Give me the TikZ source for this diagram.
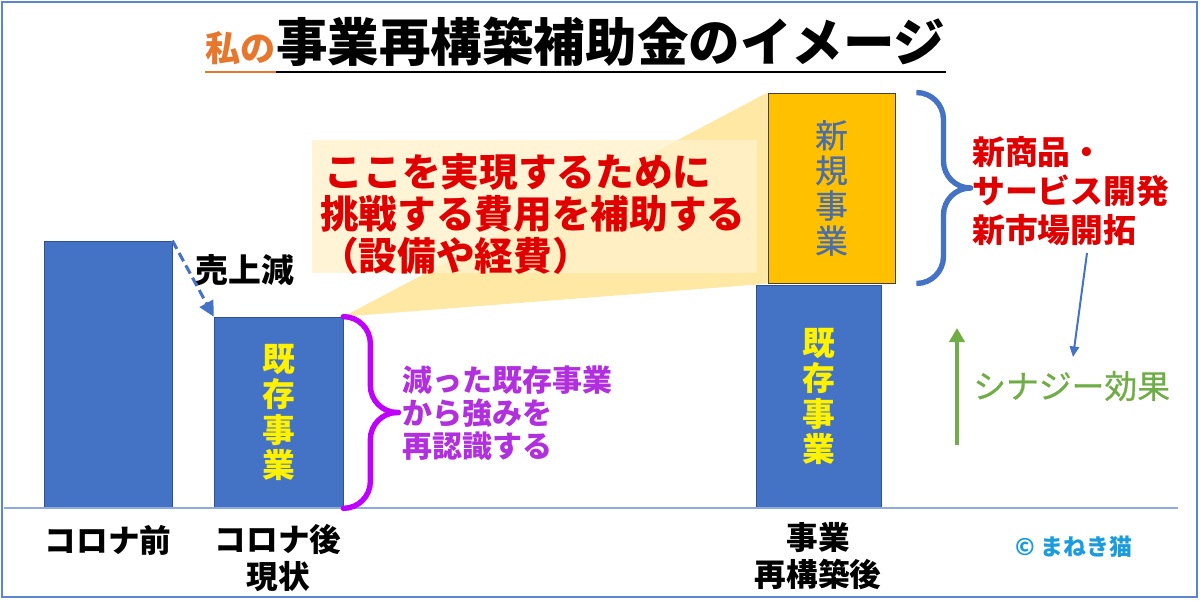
\documentclass[tikz,border=0pt]{standalone}
\usepackage{fontspec}
\setmainfont{Noto Sans CJK JP}
\newfontfamily\medfont{Noto Sans CJK JP}[FakeBold=0.7]
\usetikzlibrary{calc,positioning,arrows.meta}
\definecolor{barblue}{HTML}{4472C4}
\definecolor{barline}{HTML}{2F528F}
\definecolor{newfill}{HTML}{FFC000}
\definecolor{newline}{HTML}{404040}
\definecolor{newtext}{HTML}{4A6EA8}
\definecolor{fancol}{HTML}{FFD966}
\definecolor{notecol}{HTML}{FFF2CC}
\definecolor{alertred}{HTML}{E00000}
\definecolor{purpbrace}{HTML}{C000FF}
\definecolor{purptext}{HTML}{B22FE0}
\definecolor{synergy}{HTML}{70AD47}
\definecolor{mineorange}{HTML}{E8772E}
\definecolor{framecol}{HTML}{5B85CF}
\definecolor{axiscol}{HTML}{8FAADC}
\definecolor{catcol}{HTML}{1A9BDE}

\begin{document}
\begin{tikzpicture}[x=0.03cm, y=-0.03cm,
      bar/.style={draw=barline, line width=0.6pt, fill=barblue, text=yellow,
                  align=center, inner sep=0pt,
                  font=\fontsize{28}{30}\selectfont\bfseries},
      newbox/.style={draw=newline, line width=0.8pt, fill=newfill, text=newtext,
                     align=center, inner sep=0pt,
                     font=\fontsize{28}{30}\selectfont\medfont},
      lbl/.style={inner sep=0pt, align=center, text=black,
                  font=\fontsize{27}{31.6}\selectfont\bfseries},
      brc/.style={line width=4.6pt, rounded corners=23pt, line cap=round},
      dasharr/.style={-{Triangle[length=13pt, width=13pt]}, dash pattern=on 8pt off 4pt,
                      line width=2.6pt, color=barblue},
      thinarr/.style={-{Triangle[length=9pt, width=8pt]}, line width=1.7pt, color=barblue},
      greenarr/.style={-{Triangle[length=12pt, width=13pt]}, line width=3.4pt, color=synergy}]

    \useasboundingbox (0,0) rectangle (1200,601);
    \draw[framecol, line width=1.5pt] (2,2) rectangle (1197,597);

    % title
    \node[anchor=base west, inner sep=0pt, font=\fontsize{44}{48}\selectfont\bfseries]
      (ttl) at (276,62) {事業再構築補助金のイメージ};
    \node[anchor=base east, inner sep=0pt, text=mineorange,
          font=\fontsize{30}{34}\selectfont\bfseries]
      (mine) at (ttl.base west) {私の};
    \draw[mineorange, line width=2pt] ($(mine.base west)+(0,10)$) -- ($(mine.base east)+(0,10)$);
    \draw[black, line width=2pt] ($(ttl.base west)+(0,10)$) -- ($(ttl.base east)+(0,10)$);

    % bars
    \node[bar, minimum width=3.84cm, minimum height=8.01cm] (pre) at (108,374.5) {};
    \node[bar, minimum width=3.87cm, minimum height=5.73cm] (now) at (278.5,412.5) {既\\存\\事\\業};
    \node[bar, minimum width=3.75cm, minimum height=6.69cm] (old) at (818.5,396.5) {既\\存\\事\\業};
    \node[newbox, minimum width=3.81cm, minimum height=5.7cm] (new) at (831.5,188) {新\\規\\事\\業};

    \draw[axiscol, line width=1.2pt] (4,508) -- (1178,508);

    % zoom fan and note
    \fill[fancol, opacity=0.6] (now.north east) -- (new.north west) -- (new.south west) -- (old.north west) -- cycle;
    \node[fill=notecol, fill opacity=0.8, inner sep=0pt,
          minimum width=13.35cm, minimum height=3.99cm] (note) at (534.5,206.5) {};
    \node[anchor=west, inner sep=0pt, align=left, text=alertred,
          font=\fontsize{33}{35.9}\selectfont\bfseries]
      (msg) at (320,214) {\hspace{4pt}ここを実現するために\\挑戦する費用を補助する\\（設備や経費）};

    % sales drop
    \draw[dasharr] (pre.north east) -- (now.north west);
    \node[lbl, font=\fontsize{28}{30}\selectfont\bfseries] (drop) at (245,270) {売上減};

    % braces
    \draw[brc, purpbrace] (now.north east) -| ($(now.east)+(27,0)$) -- ($(now.east)+(55,0)$);
    \draw[brc, purpbrace] (now.south east) -| ($(now.east)+(27,0)$) -- ($(now.east)+(55,0)$);
    \node[anchor=west, inner sep=0pt, align=left, text=purptext,
          font=\fontsize{25.6}{28.2}\selectfont\bfseries]
      (rethink) at (402,413) {減った既存事業\\から強みを\\再認識する};

    \draw[brc, barblue] ($(new.north east)+(22,0)$) -| ($(new.east)+(48,0)$) -- ($(new.east)+(75,0)$);
    \draw[brc, barblue] ($(new.south east)+(22,0)$) -| ($(new.east)+(48,0)$) -- ($(new.east)+(75,0)$);
    \node[anchor=west, inner sep=0pt, align=left, text=alertred,
          font=\fontsize{28}{33.3}\selectfont\bfseries]
      (grow) at (972,191) {新商品・\\サービス開発\\新市場開拓};

    % synergy
    \coordinate (hintS) at (1087,253);
    \coordinate (hintE) at (1073,357);
    \draw[thinarr] (hintS) -- (hintE);
    \coordinate (upS) at (957,445);
    \coordinate (upE) at (957,328);
    \draw[greenarr] (upS) -- (upE);
    \node[anchor=west, inner sep=0pt, text=synergy,
          font=\fontsize{28}{30}\selectfont\medfont]
      (syn) at (973,386) {シナジー効果};

    % bottom labels
    \node[lbl] (preL) at (108,540) {コロナ前};
    \node[lbl] (nowL) at (278,558) {コロナ後\\現状};
    \node[lbl] (oldL) at (818,556) {事業\\再構築後};
    \node[inner sep=0pt, text=catcol, font=\fontsize{19.5}{22}\selectfont\bfseries]
      (cat) at (1074,547) {©\ まねき猫};
  \end{tikzpicture}
\end{document}
